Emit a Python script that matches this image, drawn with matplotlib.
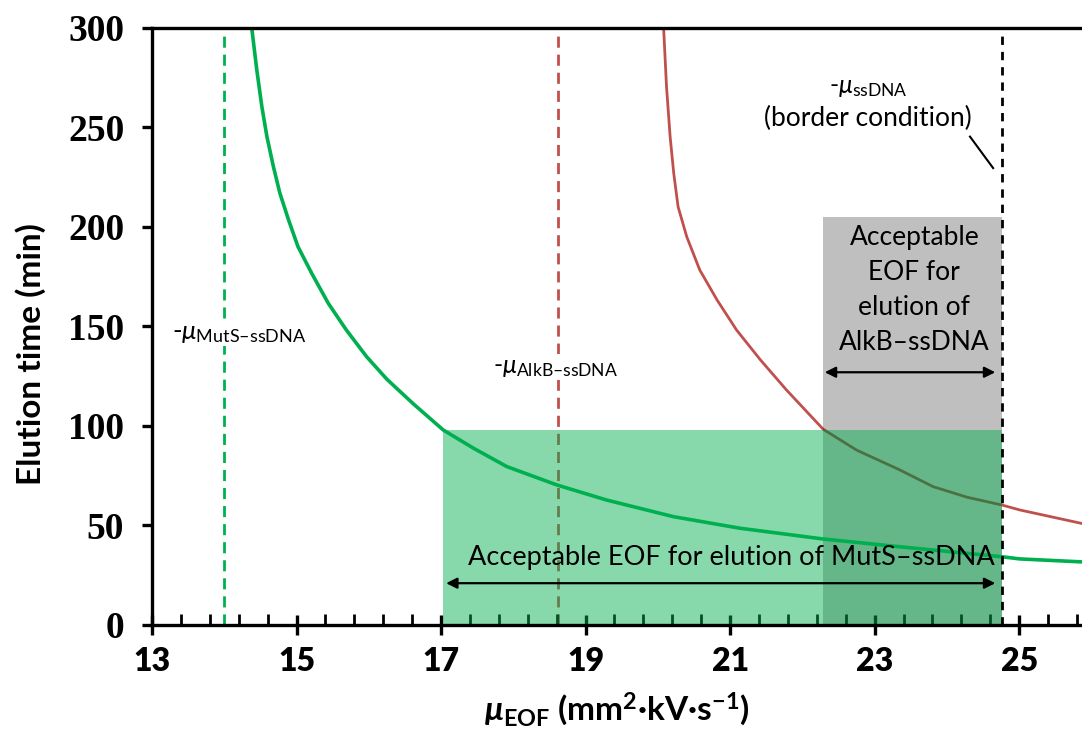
import matplotlib
matplotlib.use("Agg")
import matplotlib.pyplot as plt
from matplotlib.ticker import FixedLocator
import numpy as np

plt.rcParams['mathtext.fontset'] = 'custom'
plt.rcParams['mathtext.rm'] = 'Lato'
plt.rcParams['mathtext.it'] = 'Lato:italic'
plt.rcParams['mathtext.bf'] = 'Lato:bold'
plt.rcParams['mathtext.bfit'] = 'Lato:italic:bold'

# ---- data ----
green_x = [14.38, 14.45, 14.52, 14.59, 14.68, 14.77, 14.89, 15.02, 15.21, 15.44,
           15.69, 15.97, 16.25, 16.62, 17.03, 17.45, 17.91, 18.60, 19.29, 20.22,
           21.14, 22.29, 23.35, 24.76, 25.01, 25.87]
green_y = [300, 278.9, 260.5, 245.4, 230.3, 216.9, 203.5, 190.1, 176.7, 161.6,
           148.2, 134.8, 123.5, 111, 98, 88.8, 79.6, 70.4, 62.8, 54.4,
           48.6, 43.2, 39.3, 34.3, 33.2, 31.7]

red_x = [20.08, 20.12, 20.17, 20.22, 20.28, 20.40, 20.58, 20.82, 21.09, 21.42,
         21.78, 22.29, 22.75, 23.35, 23.81, 24.28, 24.76, 25.01, 25.87]
red_y = [300, 270.5, 245.4, 227, 210.2, 195.1, 178.4, 163.3, 148.2, 133.2,
         118.1, 98.3, 87.9, 77.9, 69.5, 64.2, 60.3, 57.8, 51]

mu_mutS = 14.0
mu_alkB = 18.62
mu_ssDNA = 24.76

mutS_window = (17.03, 24.76, 98)     # x start, x end, height
alkB_window = (22.29, 24.76, 205)

x_major = [13, 15, 17, 19, 21, 23, 25]
y_major = [0, 50, 100, 150, 200, 250, 300]

GREEN = '#00B050'
RED = '#C0504D'

fig = plt.figure(figsize=(10.82, 7.42), dpi=100)
ax = fig.add_axes([0.1405, 0.1577, 0.8595, 0.8046])
ax.set_xlim(13, 25.87)
ax.set_ylim(0, 300)

# vertical reference lines
ax.plot([mu_mutS, mu_mutS], [0, 300], color=GREEN, lw=2, dashes=(4, 2.5), zorder=1)
ax.plot([mu_alkB, mu_alkB], [0, 300], color=RED, lw=2, dashes=(4, 2.5), zorder=1)

# red curve (below shaded regions)
ax.plot(red_x, red_y, color=RED, lw=2, zorder=2, solid_joinstyle='round')

# shaded windows
ax.fill_between([alkB_window[0], alkB_window[1]], 0, alkB_window[2],
                color='black', alpha=0.25, lw=0, zorder=3)
ax.fill_between([mutS_window[0], mutS_window[1]], 0, mutS_window[2],
                color=GREEN, alpha=0.47, lw=0, zorder=3)

# green curve on top
ax.plot(green_x, green_y, color=GREEN, lw=2.6, zorder=4, solid_joinstyle='round')

# border condition line
ax.plot([mu_ssDNA, mu_ssDNA], [0, 300], color='black', lw=2, dashes=(3, 2.5), zorder=5)

# arrows
ax.annotate('', xy=(17.07, 21), xytext=(24.67, 21),
            arrowprops=dict(arrowstyle='<|-|>', color='black', lw=1.6,
                            mutation_scale=16, shrinkA=0, shrinkB=0), zorder=6)
ax.annotate('', xy=(22.31, 127), xytext=(24.67, 127),
            arrowprops=dict(arrowstyle='<|-|>', color='black', lw=1.6,
                            mutation_scale=16, shrinkA=0, shrinkB=0), zorder=6)

# connector for border condition label
ax.plot([24.32, 24.64], [245.4, 229.6], color='black', lw=1.5, zorder=6)

txt = dict(family='Lato', color='black', zorder=7)
ax.text(13.27, 147, r'-$\mu_{\mathrm{MutS–ssDNA}}$', fontsize=18.5, ha='left', va='center',
        bbox=dict(facecolor='white', edgecolor='none', pad=1), **txt)
ax.text(18.58, 129.5, r'-$\mu_{\mathrm{AlkB–ssDNA}}$', fontsize=18, ha='center', va='center',
        bbox=dict(facecolor='white', edgecolor='none', pad=1), **txt)
ax.text(22.91, 270, r'-$\mu_{\mathrm{ssDNA}}$', fontsize=18, ha='center', va='center', **txt)
ax.text(22.91, 254.6, '(border condition)', fontsize=19, ha='center', va='center', **txt)
ax.text(23.55, 168.5, 'Acceptable\nEOF for\nelution of\nAlkB–ssDNA', fontsize=19,
        ha='center', va='center', linespacing=1.5, **txt)
ax.text(21.02, 34, 'Acceptable EOF for elution of MutS–ssDNA', fontsize=19.5,
        ha='center', va='center', **txt)

# axes styling
for s in ['left', 'bottom', 'top']:
    ax.spines[s].set_linewidth(2.4)
    ax.spines[s].set_zorder(10)
ax.spines['right'].set_visible(False)

ax.xaxis.set_major_locator(FixedLocator(x_major))
ax.xaxis.set_minor_locator(FixedLocator(np.arange(13, 25.9, 0.4)))
ax.yaxis.set_major_locator(FixedLocator(y_major))

ax.tick_params(axis='x', which='major', direction='inout', length=14, width=2.4, pad=9)
ax.tick_params(axis='x', which='minor', direction='in', length=8, width=2)
ax.tick_params(axis='y', which='major', direction='out', length=7, width=2.4, pad=13)
ax.tick_params(top=False, right=False)

for lab in ax.get_yticklabels():
    lab.set_family('Liberation Serif')
    lab.set_fontweight('bold')
    lab.set_fontsize(27)
for lab in ax.get_xticklabels():
    lab.set_family('Lato')
    lab.set_fontweight('heavy')
    lab.set_fontsize(23)

ax.set_ylabel('Elution time (min)', family='Lato', fontweight='bold', fontsize=24,
              ha='center', va='center', rotation_mode='anchor')
ax.yaxis.set_label_coords(-0.131, 0.454)
ax.set_xlabel(r'$\mathbfit{\mu}_{\mathbf{EOF}}$ (mm$^{\mathbf{2}}$·kV·s$^{\mathbf{-1}}$)',
              family='Lato', fontweight='bold', fontsize=24, labelpad=10)

fig.savefig('out.png', dpi=100)
